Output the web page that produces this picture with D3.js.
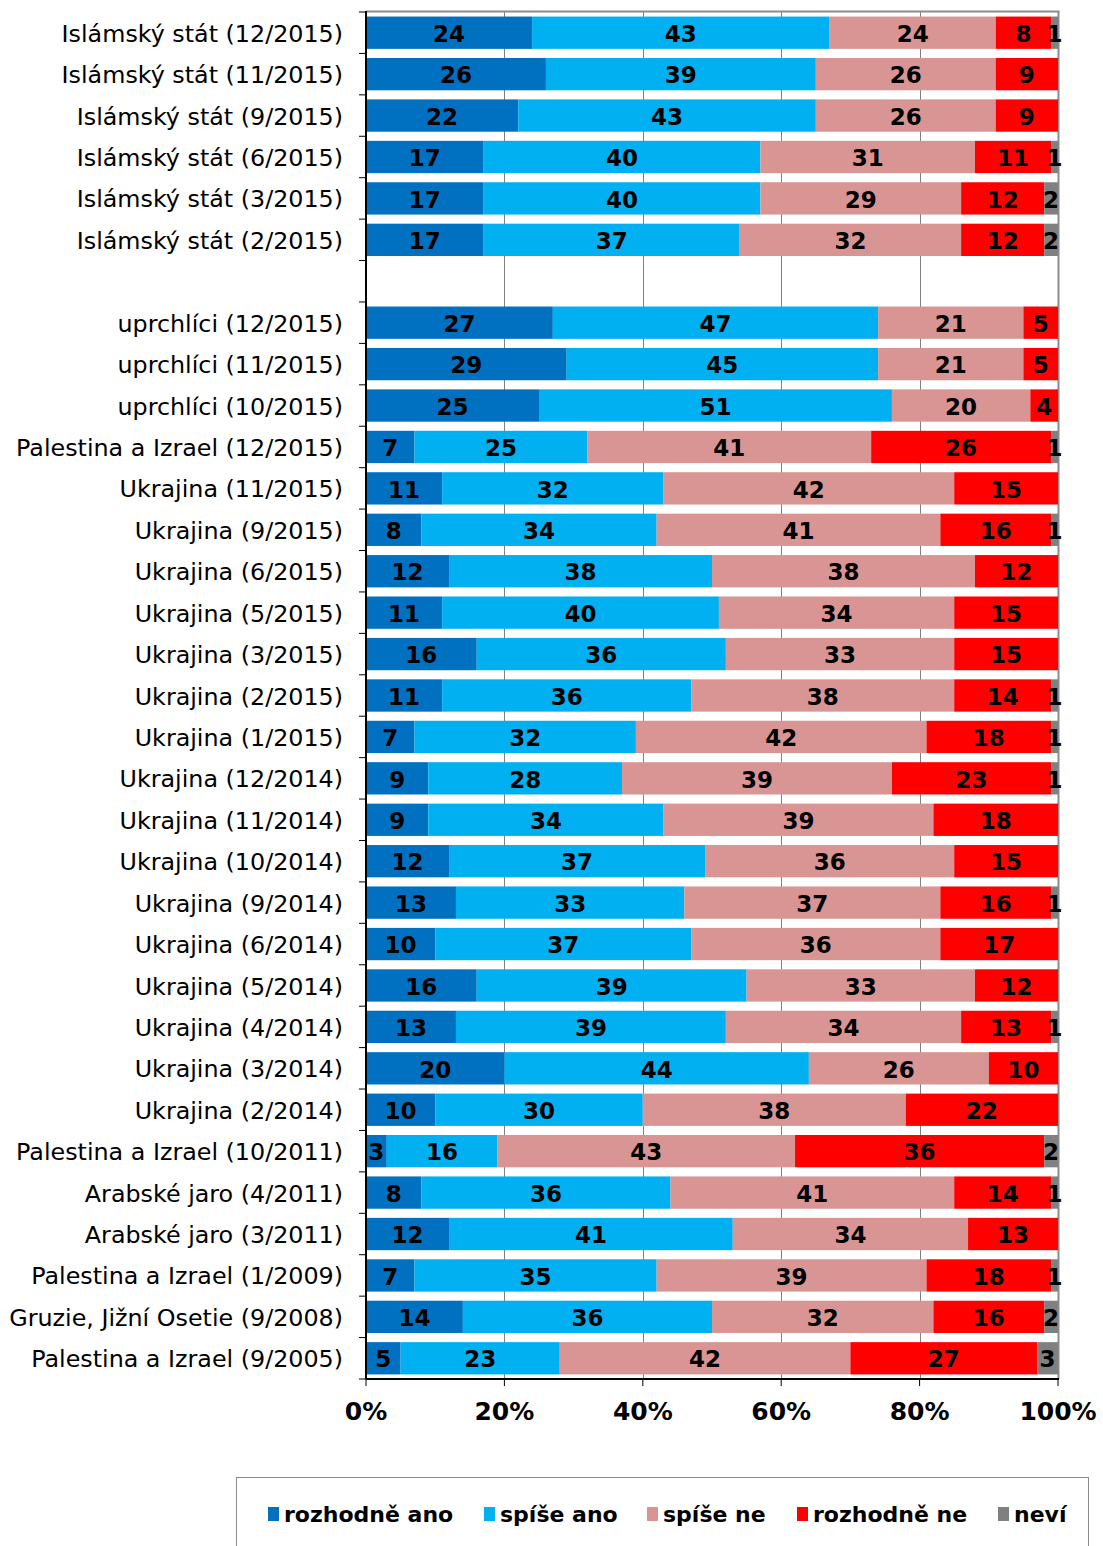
<!DOCTYPE html>
<html>
<head>
<meta charset="utf-8">
<script src="https://cdn.jsdelivr.net/npm/d3@7"></script>
<style>
  body { margin: 0; background: #fff; }
  svg text { font-family: "DejaVu Sans", Verdana, sans-serif; fill: #000; }
</style>
</head>
<body>
<script>
// categories top to bottom, "" is the empty spacer row
const categories = [
  "Islámský stát (12/2015)", "Islámský stát (11/2015)", "Islámský stát (9/2015)",
  "Islámský stát (6/2015)", "Islámský stát (3/2015)", "Islámský stát (2/2015)",
  "",
  "uprchlíci (12/2015)", "uprchlíci (11/2015)", "uprchlíci (10/2015)",
  "Palestina a Izrael (12/2015)", "Ukrajina (11/2015)", "Ukrajina (9/2015)",
  "Ukrajina (6/2015)", "Ukrajina (5/2015)", "Ukrajina (3/2015)", "Ukrajina (2/2015)",
  "Ukrajina (1/2015)", "Ukrajina (12/2014)", "Ukrajina (11/2014)", "Ukrajina (10/2014)",
  "Ukrajina (9/2014)", "Ukrajina (6/2014)", "Ukrajina (5/2014)", "Ukrajina (4/2014)",
  "Ukrajina (3/2014)", "Ukrajina (2/2014)", "Palestina a Izrael (10/2011)",
  "Arabské jaro (4/2011)", "Arabské jaro (3/2011)", "Palestina a Izrael (1/2009)",
  "Gruzie, Jižní Osetie (9/2008)", "Palestina a Izrael (9/2005)"
];

const rozhodneAno = [24,26,22,17,17,17, 0, 27,29,25,7,11,8,12,11,16,11,7,9,9,12,13,10,16,13,20,10,3,8,12,7,14,5];
const spiseAno    = [43,39,43,40,40,37, 0, 47,45,51,25,32,34,38,40,36,36,32,28,34,37,33,37,39,39,44,30,16,36,41,35,36,23];
const spiseNe     = [24,26,26,31,29,32, 0, 21,21,20,41,42,41,38,34,33,38,42,39,39,36,37,36,33,34,26,38,43,41,34,39,32,42];
const rozhodneNe  = [8,9,9,11,12,12,    0, 5,5,4,26,15,16,12,15,15,14,18,23,18,15,16,17,12,13,10,22,36,14,13,18,16,27];
const nevi        = [1,0,0,1,2,2,       0, 0,0,0,1,0,1,0,0,0,1,1,1,0,0,1,0,0,1,0,0,2,1,0,1,2,3];

const seriesNames = ["rozhodně ano", "spíše ano", "spíše ne", "rozhodně ne", "neví"];
const seriesColors = ["#0070C0", "#00B0F0", "#D99594", "#FF0000", "#808080"];
const xTicks = [0, 0.2, 0.4, 0.6, 0.8, 1];

const allSeries = [rozhodneAno, spiseAno, spiseNe, rozhodneNe, nevi];

const width = 1103, height = 1546;
const plotLeft = 366, plotRight = 1058, plotTop = 12, plotBottom = 1379;

const svg = d3.select("body").append("svg").attr("width", width).attr("height", height);

const keys = categories.map((c, i) => i);
const yScale = d3.scaleBand().domain(keys).range([plotTop, plotBottom]).paddingInner(0.22).paddingOuter(0.11);
const xScale = d3.scaleLinear().domain([0, 1]).range([plotLeft, plotRight]);
const step = yScale.step();

// table of rows for the stack
const rows = keys.map(i => {
  const row = { key: i };
  const total = d3.sum(allSeries, s => s[i]) || 1;
  seriesNames.forEach((n, j) => { row[n] = allSeries[j][i] / total; row[n + "_v"] = allSeries[j][i]; });
  return row;
});
const stacked = d3.stack().keys(seriesNames)(rows);

// gridlines
svg.append("g").selectAll("line")
  .data(xTicks.slice(1, -1))
  .enter().append("line")
  .attr("x1", d => Math.round(xScale(d)) + 0.5).attr("x2", d => Math.round(xScale(d)) + 0.5)
  .attr("y1", plotTop).attr("y2", plotBottom)
  .attr("stroke", "#808080").attr("stroke-width", 1);

// top and right border
svg.append("line").attr("x1", plotLeft).attr("x2", plotRight + 1.5).attr("y1", plotTop - 0.5).attr("y2", plotTop - 0.5)
  .attr("stroke", "#8c8c8c").attr("stroke-width", 2);
svg.append("line").attr("x1", plotRight + 0.5).attr("x2", plotRight + 0.5).attr("y1", plotTop).attr("y2", plotBottom)
  .attr("stroke", "#8c8c8c").attr("stroke-width", 2);

// bars
const layers = svg.append("g").selectAll("g")
  .data(stacked)
  .enter().append("g")
  .attr("fill", (d, i) => seriesColors[i]);

layers.selectAll("rect")
  .data(d => d)
  .enter().append("rect")
  .attr("x", p => xScale(p[0]))
  .attr("width", p => xScale(p[1]) - xScale(p[0]))
  .attr("y", p => yScale(p.data.key))
  .attr("height", yScale.bandwidth());

// value labels
stacked.forEach(layer => {
  svg.append("g").selectAll("text")
    .data(layer.filter(p => p.data[layer.key + "_v"] > 0))
    .enter().append("text")
    .attr("x", p => (xScale(p[0]) + xScale(p[1])) / 2)
    .attr("y", p => yScale(p.data.key) + yScale.bandwidth() / 2)
    .attr("dy", "0.4em")
    .attr("text-anchor", "middle")
    .style("font-size", "23px")
    .style("font-weight", "bold")
    .text(p => p.data[layer.key + "_v"]);
});

// left axis
svg.append("line").attr("x1", plotLeft).attr("x2", plotLeft).attr("y1", plotTop - 1).attr("y2", plotBottom)
  .attr("stroke", "#000").attr("stroke-width", 2);
svg.append("g").selectAll("line")
  .data(d3.range(categories.length + 1))
  .enter().append("line")
  .attr("x1", plotLeft - 7).attr("x2", plotLeft)
  .attr("y1", i => plotTop + i * step).attr("y2", i => plotTop + i * step)
  .attr("stroke", "#000").attr("stroke-width", 1);

svg.append("g").selectAll("text")
  .data(keys)
  .enter().append("text")
  .attr("x", 343)
  .attr("y", i => yScale(i) + yScale.bandwidth() / 2)
  .attr("dy", "0.38em")
  .attr("text-anchor", "end")
  .style("font-size", "23.8px")
  .text(i => categories[i]);

// bottom axis
svg.append("line").attr("x1", plotLeft).attr("x2", plotRight + 1).attr("y1", plotBottom).attr("y2", plotBottom)
  .attr("stroke", "#000").attr("stroke-width", 2);
svg.append("g").selectAll("line")
  .data(xTicks)
  .enter().append("line")
  .attr("x1", d => xScale(d)).attr("x2", d => xScale(d))
  .attr("y1", plotBottom).attr("y2", plotBottom + 7)
  .attr("stroke", "#000").attr("stroke-width", 1);
svg.append("g").selectAll("text")
  .data(xTicks)
  .enter().append("text")
  .attr("x", d => xScale(d))
  .attr("y", 1411)
  .attr("dy", "0.36em")
  .attr("text-anchor", "middle")
  .style("font-size", "25px")
  .style("font-weight", "bold")
  .text(d3.format(".0%"));

// legend
svg.append("rect")
  .attr("x", 236.5).attr("y", 1477.5).attr("width", 852).attr("height", 100)
  .attr("fill", "#fff").attr("stroke", "#8c8c8c").attr("stroke-width", 1);

const legendX = [268, 484, 647, 797, 998];
const legend = svg.append("g").selectAll("g")
  .data(seriesNames)
  .enter().append("g")
  .attr("transform", (d, i) => "translate(" + legendX[i] + ",1514)");
legend.append("rect")
  .attr("x", 0).attr("y", -7).attr("width", 11).attr("height", 14)
  .attr("fill", (d, i) => seriesColors[i]);
legend.append("text")
  .attr("x", 16).attr("y", 0).attr("dy", "0.36em")
  .style("font-size", "22px")
  .style("font-weight", "bold")
  .text(d => d);
</script>
</body>
</html>
